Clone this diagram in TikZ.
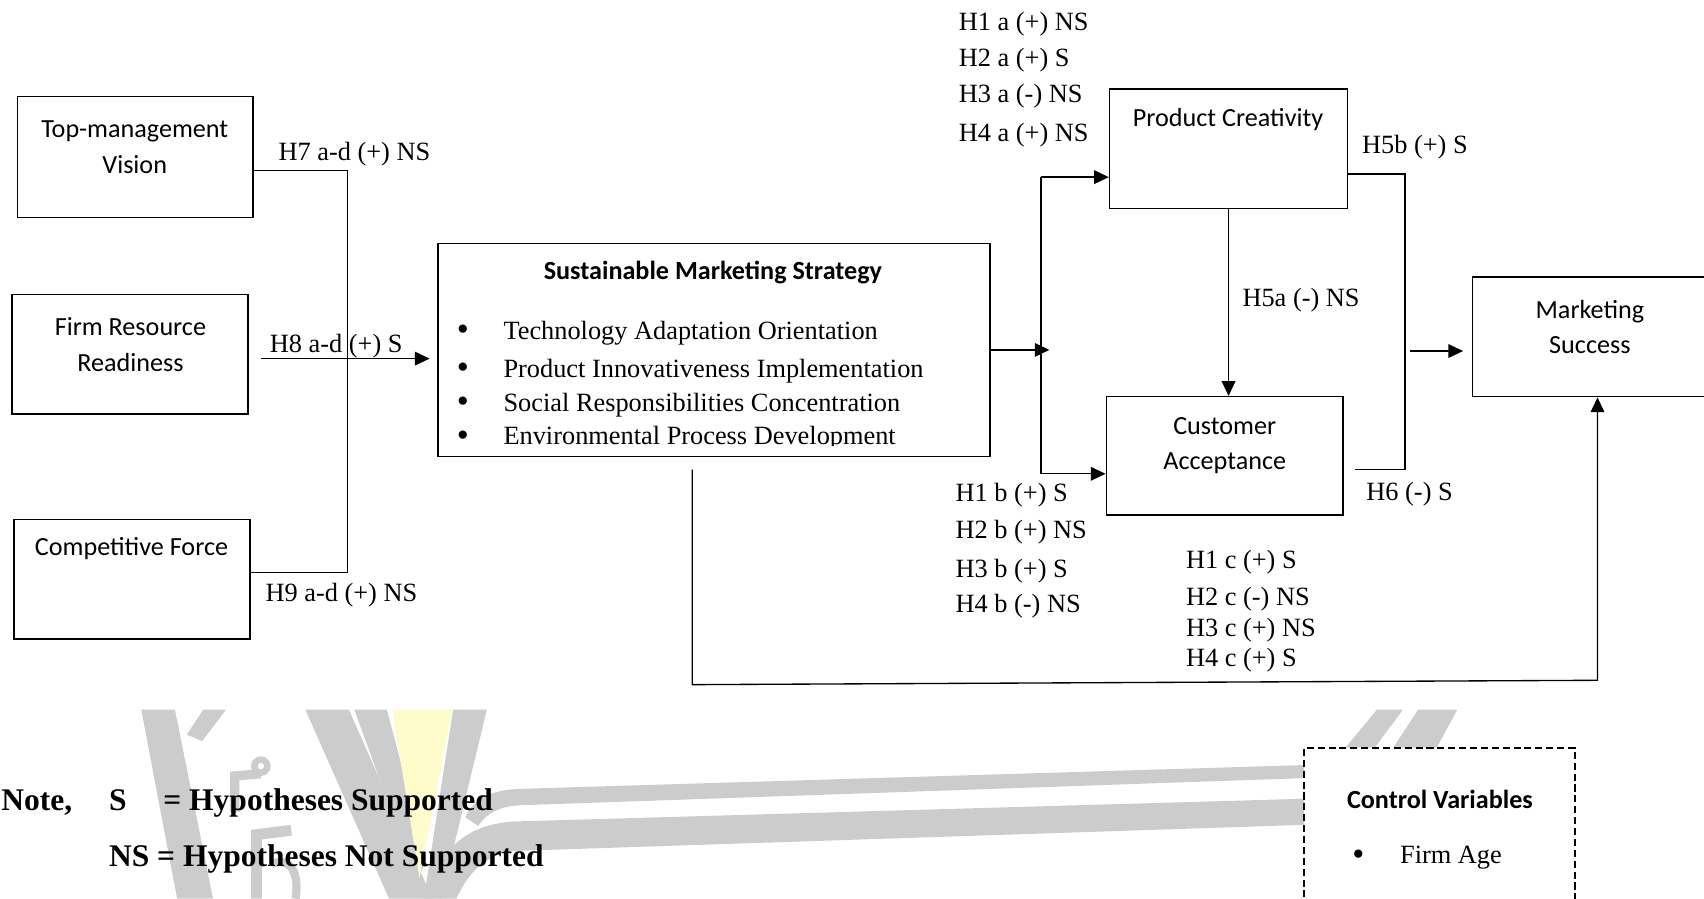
\documentclass[tikz,border=0pt]{standalone}
\usepackage{fontspec}
\setmainfont{Liberation Serif}
\setsansfont{Carlito}
\usepackage{xcolor}
\usepackage{tikz}
\usetikzlibrary{positioning,arrows.meta,calc}
\tikzset{
box/.style={draw,line width=0.8pt,inner sep=0pt},
ctrlbox/.style={draw,fill=white,line width=1pt,dash pattern=on 3.7pt off 2pt,inner sep=0pt},
boxtxt/.style={align=center,inner sep=0pt,yshift=-0.04cm,font=\sffamily\fontsize{13.7}{18.7}\selectfont},
hyp/.style={anchor=west,inner sep=0pt,yshift=-0.05cm,font=\fontsize{13.8}{16}\selectfont},
dot/.style={inner sep=0pt,yshift=-0.05cm,font=\fontsize{18}{18}\selectfont},
notetxt/.style={anchor=base west,inner sep=0pt,font=\bfseries\fontsize{16.5}{19}\selectfont},
link/.style={line width=0.7pt},
arrow/.style={-{Triangle[length=2.7mm,width=2.5mm]},line width=0.7pt},
wmark/.style={fill=black!20,draw=none}
}

\begin{document}
\begin{tikzpicture}[x=0.02cm,y=-0.02cm]
\useasboundingbox (0,0) rectangle (1568,827);
\clip (0,0) rectangle (1568,827);

% watermark under the legend
\fill[wmark] (130,653) -- (161,653) -- (196,827) -- (163,827) -- cycle;
\fill[wmark] (187,653) -- (208,653) -- (186,682) -- (172,676) -- cycle;
\draw[black!20,line width=0.17cm] (216,747) -- (216,714) -- (240,712);
\draw[black!20,line width=0.12cm] (240,705) circle (6);
\draw[black!20,line width=0.2cm] (236,827) -- (236,768) -- (268,764);
\draw[black!20,line width=0.15cm] (250,795) .. controls (266,788) and (276,802) .. (272,827);
\fill[wmark] (281,653) -- (321,653) -- (398,827) -- (358,827) -- cycle;
\fill[wmark] (326,653) -- (356,653) -- (392,790) -- (384,812) -- cycle;
\fill[yellow!20] (361,653) -- (416,653) -- (386,808) -- cycle;
\fill[wmark] (417,653) -- (448,653) -- (406,827) -- (390,827) -- cycle;
\fill[wmark] (428,752) .. controls (438,733) and (452,728) .. (475,726) -- (1200,704) -- (1200,716) -- (478,741) .. controls (460,742) and (448,748) .. (440,760) -- cycle;
\fill[wmark] (398,812) .. controls (410,778) and (430,760) .. (470,756) -- (1200,735) -- (1200,759) -- (475,783) .. controls (450,785) and (432,800) .. (420,827) -- (405,827) -- cycle;
\fill[wmark] (1267,653) -- (1291,653) -- (1265,688) -- (1238,688) -- cycle;
\fill[wmark] (1305,653) -- (1341,653) -- (1322,688) -- (1282,688) -- cycle;

% antecedents
\node[box,minimum width=4.34cm,minimum height=2.22cm](tmv) at (124.5,144.5){};
\node[boxtxt](tmvtxt) at (124,133.5){Top-management\\Vision};
\node[box,minimum width=4.34cm,minimum height=2.2cm](frr) at (119.5,326){};
\node[boxtxt](frrtxt) at (120,315){Firm Resource\\Readiness};
\node[box,minimum width=4.34cm,minimum height=2.2cm](cf) at (121.5,533){};
\node[boxtxt](cftxt) at (121,503){Competitive Force};

% strategy box
\node[box,minimum width=10.16cm,minimum height=3.92cm](sms) at (657,322){};
\node[boxtxt,font=\sffamily\bfseries\fontsize{13.7}{16}\selectfont](smstxt) at (656,249){Sustainable Marketing Strategy};
\begin{scope}
\clip (403,224) rectangle (911,410);
\foreach \y/\t [count=\i] in {304/Technology Adaptation Orientation,339/Product Innovativeness Implementation,370/Social Responsibilities Concentration,401/Environmental Process Development}{
\node[dot](b\i) at (426,\y){\textbullet};
\node[hyp](s\i) at (463,\y){\t};
}
\end{scope}

% mediators and outcome
\node[box,minimum width=4.38cm,minimum height=2.2cm](pc) at (1130.5,137){};
\node[boxtxt](pctxt) at (1130,108){Product Creativity};
\node[box,minimum width=4.36cm,minimum height=2.18cm](ca) at (1127,419.5){};
\node[boxtxt](catxt) at (1127,408){Customer\\Acceptance};
\node[box,minimum width=4.5cm,minimum height=2.2cm](ms) at (1467.5,310){};
\node[boxtxt](mstxt) at (1463,299){Marketing\\Success};

% antecedents -> strategy
\coordinate (j7) at (320,157);
\coordinate (j9) at (320,527);
\coordinate (h8) at (240,330);
\draw[link] (tmv.east |- j7) -- (j7) -- (j9) -- (cf.east |- j9);
\draw[arrow,shorten >=0.14cm] (h8) -- (h8 -| sms.west);
\node[hyp](h7) at (256,139){H7 a-d (+) NS};
\node[hyp](h8l) at (248,316){H8 a-d (+) S};
\node[hyp](h9) at (244,545){H9 a-d (+) NS};

% strategy -> mediators
\coordinate (jt) at (958,163);
\coordinate (jb) at (958,436);
\draw[arrow] (sms.east) -- ++(54,0);
\draw[link] (jt) -- (jb);
\draw[arrow] (jt) -- (jt -| pc.west);
\draw[arrow] (jb) -- (jb -| ca.west);
\draw[arrow] (pc.south) -- (pc.south |- ca.north);

% mediators -> outcome
\coordinate (k5) at (1293,160);
\coordinate (k6) at (1293,432);
\coordinate (k6s) at (1247,432);
\coordinate (k7) at (1297,323);
\draw[link] (pc.east |- k5) -- (k5) -- (k6) -- (k6s);
\draw[arrow,shorten >=0.16cm] (k7) -- (k7 -| ms.west);

% direct path
\coordinate (lb) at (637,630);
\coordinate (rb) at (1470,626);
\draw[arrow,shorten <=0.23cm] (lb |- sms.south) -- (lb) -- (rb) -- (rb |- ms.south);

% hypothesis labels
\foreach \y/\t [count=\i] in {20/H1 a (+) NS,53/H2 a (+) S,86/H3 a (-) NS,122/H4 a (+) NS}
\node[hyp](ha\i) at (882,\y){\t};
\foreach \y/\t [count=\i] in {453/H1 b (+) S,487/H2 b (+) NS,523/H3 b (+) S,555/H4 b (-) NS}
\node[hyp](hb\i) at (879,\y){\t};
\foreach \y/\t [count=\i] in {515/H1 c (+) S,549/H2 c (-) NS,577/H3 c (+) NS,605/H4 c (+) S}
\node[hyp](hc\i) at (1091,\y){\t};
\node[hyp](h5a) at (1143,274){H5a (-) NS};
\node[hyp](h5b) at (1253,133){H5b (+) S};
\node[hyp](h6) at (1257,452){H6 (-) S};

% legend
\node[notetxt](note) at (1,746){Note,};
\node[notetxt](sabbr) at (100,746){S};
\node[notetxt](sdef) at (150,746){= Hypotheses Supported};
\node[notetxt](nsdef) at (100,797){NS = Hypotheses Not Supported};

% control variables
\node[ctrlbox,minimum width=4.98cm,minimum height=3.44cm](ctrl) at (1324.5,774){};
\node[boxtxt,font=\sffamily\bfseries\fontsize{13.7}{16}\selectfont](ctrltxt) at (1325,734){Control Variables};
\node[dot](cb) at (1250,787){\textbullet};
\node[hyp](age) at (1288,787){Firm Age};
\end{tikzpicture}
\end{document}
